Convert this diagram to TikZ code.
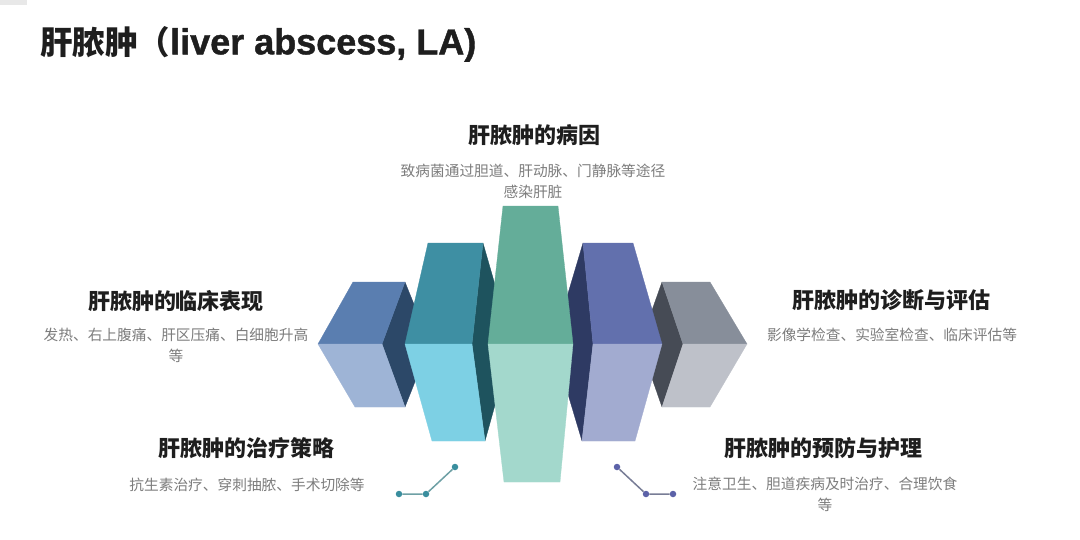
\documentclass[tikz,border=0pt]{standalone}
\usepackage{fontspec}
\usepackage{tikz}
\usetikzlibrary{positioning}
\newfontfamily\cjk{Noto Sans CJK SC}
\newfontfamily\latino[FakeBold=1.2]{Liberation Sans}
\definecolor{blu}{RGB}{90,126,176}
\definecolor{bluchiaro}{RGB}{158,180,214}
\definecolor{bluombra}{RGB}{44,72,104}
\definecolor{ottanio}{RGB}{62,143,163}
\definecolor{celeste}{RGB}{125,208,228}
\definecolor{ottanioombra}{RGB}{30,83,94}
\definecolor{verde}{RGB}{100,173,153}
\definecolor{verdechiaro}{RGB}{163,216,204}
\definecolor{indaco}{RGB}{98,112,173}
\definecolor{lavanda}{RGB}{162,171,208}
\definecolor{indacoombra}{RGB}{46,58,99}
\definecolor{grigio}{RGB}{135,142,154}
\definecolor{grigiochiaro}{RGB}{190,193,201}
\definecolor{grigioombra}{RGB}{70,75,85}
\definecolor{testo}{RGB}{30,30,30}
\definecolor{testogrigio}{RGB}{125,125,125}
\definecolor{puntoverde}{RGB}{58,142,158}
\definecolor{lineaverde}{RGB}{110,160,165}
\definecolor{puntoviola}{RGB}{92,98,168}
\definecolor{lineaviola}{RGB}{120,125,150}
\tikzset{
  prism chart/.style={
    title/.style={font={\cjk\bfseries\fontsize{32.5}{38}\selectfont},text=testo,anchor=west,inner sep=0pt},
    heading/.style={font={\cjk\bfseries\fontsize{22}{26}\selectfont},text=testo,inner sep=0pt},
    caption/.style={font={\cjk\fontsize{14.7}{21}\selectfont},text=testogrigio,align=center,inner sep=0pt},
    dot/.style={circle,inner sep=0pt,minimum size=6.5pt},
  },
  block type/.style n args={4}{
    #1 top/.style={fill=#2,draw=#2,line width=0.3pt,line join=round},
    #1 bottom/.style={fill=#3,draw=#3,line width=0.3pt,line join=round},
    #1 side/.style={fill=#4,draw=#4,line width=0.3pt,line join=round}
  }
}
% [side] {type} {top face} {bottom face}
\newcommand{\blocco}[4][]{
    \if\relax\detokenize{#1}\relax\else
        \fill[#2 side] #1 -- cycle;
    \fi
    \fill[#2 top] #3 -- cycle;
    \fill[#2 bottom] #4 -- cycle;
}

\begin{document}
\begin{tikzpicture}
[
    x=1pt, y=-1pt,
    prism chart,
    block type={uno}{blu}{bluchiaro}{bluombra},
    block type={due}{ottanio}{celeste}{ottanioombra},
    block type={tre}{verde}{verdechiaro}{verdechiaro},
    block type={quattro}{indaco}{lavanda}{indacoombra},
    block type={cinque}{grigio}{grigiochiaro}{grigioombra}
]
    \fill[white] (0,0) rectangle (1080,539);
    \useasboundingbox (0,0) rectangle (1080,539);
    \fill[gray!18] (0,0) rectangle (27,5);

    \node[title] (titolo) at (40,44) {肝脓肿（{\latino\fontsize{36}{40}\selectfont liver abscess, LA)}};

    % blocchi, dall'esterno verso il centro
    \blocco[(405,282) -- (430,344) -- (405,407) -- (382,344)]{uno}
        {(353,282) -- (405,282) -- (382,344) -- (318,344)}
        {(318,344) -- (382,344) -- (405,407) -- (355,407)}
    \blocco[(662,282) -- (640,344) -- (662,407) -- (683,344)]{cinque}
        {(662,282) -- (710,282) -- (747,344) -- (683,344)}
        {(683,344) -- (747,344) -- (710,407) -- (662,407)}
    \blocco[(483,243) -- (512,344) -- (485,441) -- (472,344)]{due}
        {(428,243) -- (483,243) -- (472,344) -- (405,344)}
        {(405,344) -- (472,344) -- (485,441) -- (432,441)}
    \blocco[(583,243) -- (553,344) -- (582,441) -- (593,344)]{quattro}
        {(583,243) -- (633,243) -- (662,344) -- (593,344)}
        {(593,344) -- (662,344) -- (635,441) -- (582,441)}
    \blocco{tre}
        {(503,206) -- (558,206) -- (573,344) -- (488,344)}
        {(488,344) -- (573,344) -- (560,482) -- (504,482)}

    % testi
    \node[heading] (causa) at (534,135) {肝脓肿的病因};
    \node[caption] (causa testo) at (533,181.5) {致病菌通过胆道、肝动脉、门静脉等途径\\感染肝脏};
    \node[heading] (clinica) at (176,301) {肝脓肿的临床表现};
    \node[caption] (clinica testo) at (176,345.5) {发热、右上腹痛、肝区压痛、白细胞升高\\等};
    \node[heading] (diagnosi) at (891,300) {肝脓肿的诊断与评估};
    \node[caption] (diagnosi testo) at (892,335) {影像学检查、实验室检查、临床评估等};
    \node[heading] (terapia) at (246,448) {肝脓肿的治疗策略};
    \node[caption] (terapia testo) at (247,485) {抗生素治疗、穿刺抽脓、手术切除等};
    \node[heading] (prevenzione) at (823,448) {肝脓肿的预防与护理};
    \node[caption] (prevenzione testo) at (825,494) {注意卫生、胆道疾病及时治疗、合理饮食\\等};

    % punti
    \node[dot,fill=puntoverde] (sx1) at (399,494) {};
    \node[dot,fill=puntoverde] (sx2) at (426,494) {};
    \node[dot,fill=puntoverde] (sx3) at (455,467) {};
    \draw[lineaverde,line width=1.5pt] (sx1) -- (sx2) -- (sx3);
    \node[dot,fill=puntoviola] (dx1) at (617,467) {};
    \node[dot,fill=puntoviola] (dx2) at (646,494) {};
    \node[dot,fill=puntoviola] (dx3) at (673,494) {};
    \draw[lineaviola,line width=1.5pt] (dx1) -- (dx2) -- (dx3);
\end{tikzpicture}
\end{document}
